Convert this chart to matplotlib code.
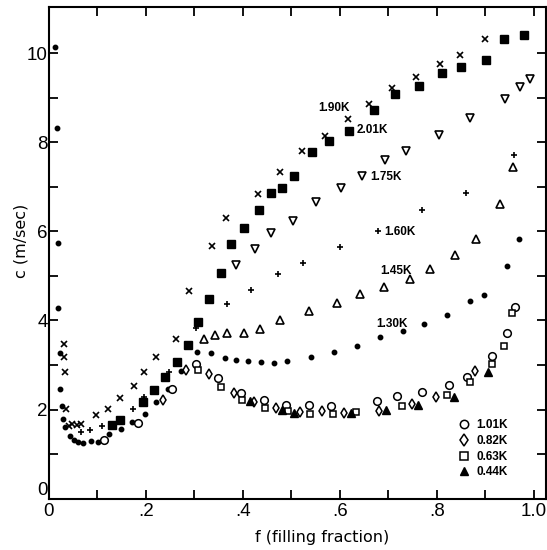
import matplotlib
matplotlib.use('Agg')
import matplotlib.pyplot as plt
from matplotlib.lines import Line2D
from matplotlib.ticker import FixedLocator

# DATA
f_130 = [0.013, 0.017, 0.019, 0.018, 0.022, 0.022, 0.026, 0.029, 0.033, 0.043, 0.051, 0.059,
         0.070, 0.086, 0.101, 0.123, 0.149, 0.172, 0.198, 0.220, 0.245, 0.273, 0.306, 0.334,
         0.362, 0.385, 0.411, 0.438, 0.464, 0.491, 0.541, 0.587, 0.635, 0.682, 0.730, 0.773,
         0.821, 0.868, 0.898, 0.945, 0.969]
c_130 = [10.15, 8.32, 5.73, 4.29, 3.28, 2.46, 2.08, 1.78, 1.60, 1.41, 1.32, 1.27,
         1.26, 1.29, 1.28, 1.45, 1.57, 1.72, 1.90, 2.16, 2.46, 2.87, 3.30, 3.26,
         3.15, 3.11, 3.08, 3.07, 3.05, 3.08, 3.19, 3.29, 3.43, 3.62, 3.76, 3.92,
         4.13, 4.43, 4.57, 5.22, 5.84]

f_190 = [0.031, 0.031, 0.032, 0.035, 0.041, 0.048, 0.057, 0.066, 0.097, 0.121, 0.147, 0.175,
         0.196, 0.220, 0.261, 0.288, 0.337, 0.365, 0.431, 0.477, 0.522, 0.570, 0.617, 0.660,
         0.708, 0.757, 0.806, 0.847, 0.900]
c_190 = [3.47, 3.19, 2.84, 2.01, 1.63, 1.68, 1.66, 1.68, 1.88, 2.01, 2.27, 2.53,
         2.85, 3.19, 3.59, 4.66, 5.67, 6.30, 6.83, 7.33, 7.81, 8.14, 8.52, 8.86,
         9.21, 9.47, 9.76, 9.97, 10.32]

f_201 = [0.129, 0.147, 0.194, 0.216, 0.239, 0.264, 0.287, 0.308, 0.330, 0.354, 0.376, 0.402,
         0.433, 0.457, 0.480, 0.506, 0.543, 0.577, 0.618, 0.670, 0.714, 0.763, 0.810, 0.850,
         0.902, 0.939, 0.980]
c_201 = [1.65, 1.77, 2.16, 2.44, 2.74, 3.06, 3.45, 3.96, 4.48, 5.06, 5.72, 6.08,
         6.47, 6.87, 6.97, 7.25, 7.79, 8.02, 8.26, 8.73, 9.09, 9.27, 9.56, 9.68,
         9.84, 10.31, 10.40]

f_175 = [0.385, 0.424, 0.458, 0.503, 0.550, 0.602, 0.646, 0.692, 0.737, 0.804, 0.869, 0.941,
         0.971, 0.993]
c_175 = [5.25, 5.60, 5.96, 6.24, 6.67, 6.98, 7.25, 7.60, 7.81, 8.17, 8.54, 8.97,
         9.23, 9.43]

f_160 = [0.065, 0.084, 0.110, 0.174, 0.196, 0.247, 0.303, 0.367, 0.417, 0.472, 0.523, 0.601,
         0.678, 0.770, 0.861, 0.960]
c_160 = [1.50, 1.54, 1.63, 2.01, 2.29, 2.85, 3.83, 4.37, 4.69, 5.05, 5.28, 5.66,
         6.01, 6.47, 6.87, 7.72]

f_145 = [0.320, 0.342, 0.367, 0.402, 0.435, 0.477, 0.537, 0.594, 0.642, 0.690, 0.744, 0.786,
         0.837, 0.881, 0.930, 0.956]
c_145 = [3.58, 3.68, 3.71, 3.71, 3.81, 4.00, 4.21, 4.40, 4.59, 4.76, 4.93, 5.16,
         5.46, 5.82, 6.62, 7.44]

f_101 = [0.114, 0.183, 0.254, 0.304, 0.349, 0.396, 0.444, 0.488, 0.537, 0.582, 0.677, 0.718,
         0.769, 0.825, 0.862, 0.914, 0.945, 0.961]
c_101 = [1.31, 1.69, 2.46, 3.02, 2.71, 2.38, 2.22, 2.11, 2.11, 2.08, 2.20, 2.31,
         2.40, 2.55, 2.74, 3.20, 3.73, 4.30]

f_082 = [0.235, 0.282, 0.330, 0.381, 0.422, 0.469, 0.517, 0.563, 0.609, 0.681, 0.749, 0.798,
         0.879]
c_082 = [2.22, 2.90, 2.80, 2.37, 2.16, 2.04, 1.95, 1.96, 1.93, 1.96, 2.13, 2.29,
         2.87]

f_063 = [0.307, 0.354, 0.398, 0.446, 0.492, 0.539, 0.585, 0.634, 0.727, 0.821, 0.869, 0.914,
         0.938, 0.954]
c_063 = [2.90, 2.51, 2.22, 2.03, 1.96, 1.90, 1.90, 1.95, 2.07, 2.33, 2.63, 3.02,
         3.43, 4.16]

f_044 = [0.414, 0.481, 0.506, 0.622, 0.696, 0.762, 0.835, 0.905]
c_044 = [2.20, 1.99, 1.92, 1.93, 1.99, 2.10, 2.28, 2.84]

x_ticks = [0, 0.2, 0.4, 0.6, 0.8, 1.0]
x_labels = ['0', '.2', '.4', '.6', '.8', '1.0']
y_ticks = [0, 2, 4, 6, 8, 10]
y_labels = ['0', '2', '4', '6', '8', '10']

# inline curve labels (text, f, c at left edge of text)
curve_labels = [('1.90K', 0.556, 8.77), ('2.01K', 0.634, 8.28), ('1.75K', 0.663, 7.22),
                ('1.60K', 0.692, 5.99), ('1.45K', 0.684, 5.10), ('1.30K', 0.674, 3.92)]

font = ['Liberation Sans', 'DejaVu Sans']

# PLOT
fig = plt.figure(figsize=(5.47, 5.5), dpi=100)
ax = fig.add_axes([49 / 547, 1 - 498.7 / 550, 497 / 547, 491.4 / 550])

k = 'black'
ax.plot(f_130, c_130, 'o', ms=3.2, color=k, mec=k)
ax.plot(f_190, c_190, 'x', ms=5, mew=1.2, color=k)
ax.plot(f_201, c_201, 's', ms=5.5, color=k, mec=k)
ax.plot(f_175, c_175, 'v', ms=6.3, mfc='white', mec=k, mew=1.2)
ax.plot(f_160, c_160, '+', ms=5, mew=1.2, color=k)
ax.plot(f_145, c_145, '^', ms=6.3, mfc='white', mec=k, mew=1.2)
ax.plot(f_101, c_101, 'o', ms=5.5, mfc='white', mec=k, mew=1.1)
ax.plot(f_082, c_082, 'd', ms=5.5, mfc='white', mec=k, mew=1.1)
ax.plot(f_063, c_063, 's', ms=5, mfc='white', mec=k, mew=1.1)
ax.plot(f_044, c_044, '^', ms=6.3, color=k, mec=k)

for txt, fx, cy in curve_labels:
    ax.text(fx, cy, txt, ha='left', va='center', fontsize=8.5, fontweight='bold', family=font)

handles = [
    Line2D([], [], ls='none', marker='o', ms=6, mfc='white', mec=k, mew=1.1),
    Line2D([], [], ls='none', marker='d', ms=6, mfc='white', mec=k, mew=1.1),
    Line2D([], [], ls='none', marker='s', ms=5.5, mfc='white', mec=k, mew=1.1),
    Line2D([], [], ls='none', marker='^', ms=6, color=k),
]
leg = ax.legend(handles, ['1.01K', '0.82K', '0.63K', '0.44K'], loc='upper left',
                bbox_to_anchor=(0.824, 0.162), frameon=False, borderpad=0, borderaxespad=0,
                handlelength=1.0, handletextpad=0.5, labelspacing=0.32,
                prop={'family': font, 'size': 8.5, 'weight': 'bold'})

ax.set_xlim(0, 1.025)
ax.set_ylim(0, 11.03)
ax.set_xticks(x_ticks)
ax.set_xticklabels(x_labels)
ax.set_yticks(y_ticks)
ax.set_yticklabels(y_labels)
ax.xaxis.set_minor_locator(FixedLocator([0.1, 0.3, 0.5, 0.7, 0.9]))
ax.yaxis.set_minor_locator(FixedLocator([1, 3, 5, 7, 9]))
for which in ('major', 'minor'):
    ax.tick_params(which=which, direction='in', length=6.5, width=1.3,
                   top=True, right=True)
ax.tick_params(axis='y', pad=1)
ax.tick_params(axis='x', pad=3)
for lab in ax.get_xticklabels() + ax.get_yticklabels():
    lab.set_family(font)
    lab.set_fontsize(13.5)
# the zero on the c axis sits a little above the corner, as in the original
ax.get_yticklabels()[0].set_va('bottom')
for sp in ax.spines.values():
    sp.set_linewidth(1.5)

ax.text(0.55, -0.078, 'f (filling fraction)', transform=ax.transAxes,
        ha='center', va='center', fontsize=11.5)
ax.text(-0.057, 0.524, 'c (m/sec)', transform=ax.transAxes, rotation=90,
        ha='center', va='center', fontsize=11.5)

fig.savefig('out.png', dpi=100)
